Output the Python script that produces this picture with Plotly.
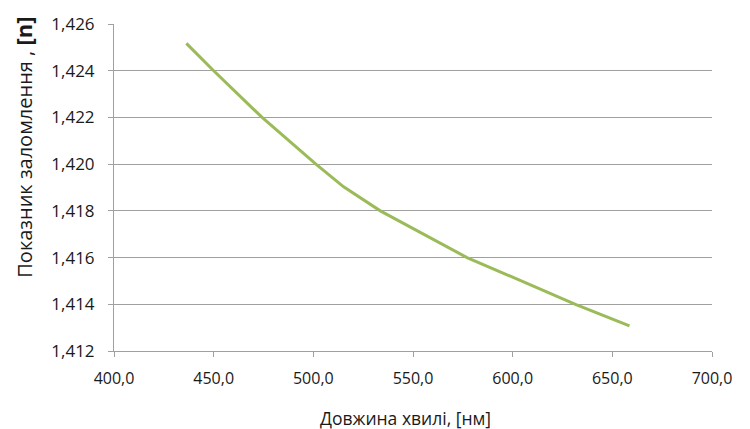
import plotly.graph_objects as go

wavelength_nm = [436.3, 450.0, 474.3, 501.3, 515.2, 533.6, 577.1, 608.8, 631.5, 658.6]
refr_index = [1.42517, 1.4240, 1.4220, 1.4200, 1.41903, 1.4180, 1.4160, 1.41482, 1.4140, 1.41308]

x_ticks = [400, 450, 500, 550, 600, 650, 700]
x_tick_labels = ["400,0", "450,0", "500,0", "550,0", "600,0", "650,0", "700,0"]
y_ticks = [1.412, 1.414, 1.416, 1.418, 1.420, 1.422, 1.424, 1.426]
y_tick_labels = ["1,412", "1,414", "1,416", "1,418", "1,420", "1,422", "1,424", "1,426"]

fig = go.Figure()
fig.add_trace(go.Scatter(x=wavelength_nm, y=refr_index, mode="lines",
                         line=dict(color="#9BBB59", width=3), showlegend=False))

font_main = "Open Sans, Liberation Sans, sans-serif"
txt = "#1a1a1a"

# plot area: x 114..712, y 24..351 (page pixels, body offset 8px)
fig.update_layout(
    width=750, height=429,
    margin=dict(l=106, r=46, t=16, b=86),
    paper_bgcolor="white", plot_bgcolor="white",
    font=dict(family=font_main, color=txt, size=14),
    xaxis=dict(range=[400, 700], tickvals=x_ticks, ticktext=x_tick_labels,
               showgrid=False, showline=True, linecolor="#A0A0A0", linewidth=1,
               ticks="outside", ticklen=5, tickcolor="#A0A0A0",
               tickfont=dict(size=16, color=txt), ticklabelstandoff=8,
               automargin=False, zeroline=False),
    yaxis=dict(range=[1.412, 1.426], tickvals=y_ticks, ticktext=y_tick_labels,
               showgrid=True, gridcolor="#A0A0A0", gridwidth=1,
               showline=True, linecolor="#A0A0A0", linewidth=1,
               ticks="outside", ticklen=5, tickcolor="#A0A0A0",
               tickfont=dict(size=17, color=txt), ticklabelstandoff=10,
               automargin=False, zeroline=False),
    annotations=[
        dict(text="Показник заломлення , <b><span style='font-size:22px'>[n]</span></b>",
             xref="paper", yref="paper", x=-0.152, y=0.622,
             xanchor="center", yanchor="middle", textangle=-90, showarrow=False,
             font=dict(size=20, color=txt, family=font_main)),
        dict(text="Довжина хвилі, [нм]",
             xref="paper", yref="paper", x=(405 - 114) / 598, y=-(418 - 351) / 327,
             xanchor="center", yanchor="middle", showarrow=False,
             font=dict(size=17.5, color=txt, family=font_main)),
    ],
)

fig.write_html("out.html")
